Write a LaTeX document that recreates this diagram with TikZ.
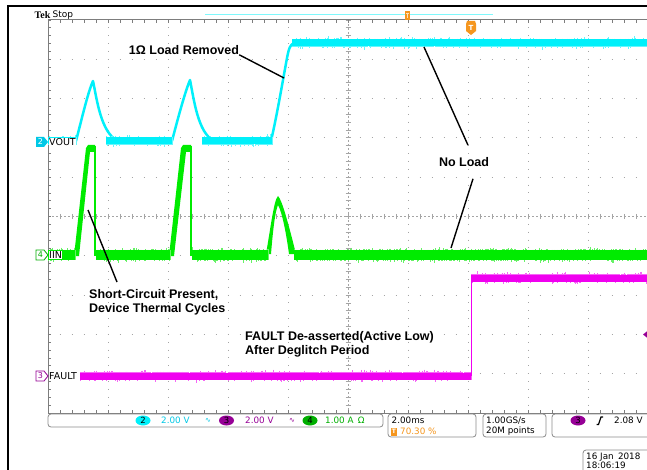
\documentclass[tikz,border=0pt]{standalone}
\usepackage{fontspec}
\setmainfont{Liberation Sans}
\newfontfamily\djv{DejaVu Sans}
\newfontfamily\lserif{Liberation Serif}
\usetikzlibrary{calc,shapes.geometric}
\definecolor{cyW}{RGB}{0,240,250}
\definecolor{cyT}{RGB}{0,200,230}
\definecolor{grW}{RGB}{0,235,0}
\definecolor{grT}{RGB}{0,175,0}
\definecolor{mgW}{RGB}{240,0,240}
\definecolor{purp}{RGB}{150,0,150}
\definecolor{orng}{RGB}{245,150,30}
\definecolor{gridc}{RGB}{165,165,165}
\definecolor{rul}{RGB}{125,125,125}
\definecolor{boxg}{RGB}{140,140,140}
\newcommand\nband[5]{%
  \pgfmathtruncatemacro\nbA{#2+1}%
  \foreach \xx in {#2,\nbA,...,#3}{%
    \pgfmathsetmacro\up{4*rnd*rnd*rnd}%
    \pgfmathsetmacro\dn{4*rnd*rnd*rnd}%
    \draw[#1!60,line width=0.9pt] (\xx,#4-#5-\up) -- (\xx,#4+#5+\dn);
  }
  \fill[#1] (#2,#4-#5) rectangle (#3,#4+#5);}
\begin{document}
\begin{tikzpicture}[x=1pt,y=-1pt,
  ann/.style={font=\fontsize{12.5}{14}\selectfont\bfseries, text=black, inner sep=0pt, align=left},
  annline/.style={black, line width=1.4pt},
  lbl/.style={font=\djv\fontsize{9.5}{10}\selectfont, fill=white, inner sep=0.5pt, anchor=west},
  bar/.style={font=\djv\fontsize{8.8}{10}\selectfont, inner sep=0pt, anchor=west},
  sbox/.style={draw=boxg, rounded corners=3pt, line width=0.8pt},
  chnum/.style={ellipse, minimum width=15pt, minimum height=10pt, inner sep=0pt, font=\djv\fontsize{8.5}{9}\selectfont},
  dotv/.style={gridc, line width=1pt, dash pattern=on 1pt off 6.86pt},
  doth/.style={gridc, line width=1pt, dash pattern=on 1pt off 11pt},
]
\pgfmathsetseed{42}
\useasboundingbox (0,0) rectangle (647,470);
\fill[white] (0,0) rectangle (647,470);
% outer frame
\draw[black,line width=1.5pt] (8,470) -- (8,6) -- (647,6);
% graticule
\foreach \i in {1,2,3,4,6,7,8,9} \draw[dotv] (48+60*\i,19.5) -- (48+60*\i,414);
\foreach \j in {1,2,3,4,6,7,8,9} \draw[doth] (47.5,20+39.3*\j) -- (648,20+39.3*\j);
\draw[gridc, line width=0.8pt, dash pattern=on 2pt off 2pt] (48,216.5) -- (648,216.5);
\draw[gridc, line width=0.8pt, dash pattern=on 2pt off 2pt] (348,20) -- (348,413);
\foreach \k in {0,...,50} {
  \draw[gridc,line width=0.8pt] (48+12*\k,214) -- ++(0,5);
  \draw[gridc,line width=0.8pt] (345.5,20+7.86*\k) -- ++(5,0);
  \draw[rul,line width=0.8pt] (48+12*\k,20) -- ++(0,3);
  \draw[rul,line width=0.8pt] (48+12*\k,413) -- ++(0,-3);
  \draw[rul,line width=0.8pt] (48,20+7.86*\k) -- ++(3,0);
}
\draw[rul, line width=1pt] (48,413) -- (48,20) -- (648,20);
\draw[rul, line width=1pt] (48,413) -- (648,413);
% record bar and markers
\draw[cyW!50, line width=1pt] (205,15) -- (493,15);
\fill[orng] (405,11) rectangle (410,20);
\draw[white!70!orng, line width=0.6pt] (406,13) -- (409,13) (407.5,13) -- (407.5,18);
\fill[orng] (467,21) -- (475,21) -- (476,24) -- (476,31) -- (471,35) -- (466,31) -- (466,24) -- cycle;
\node[font=\djv\bfseries\fontsize{7}{7}\selectfont, text=white, inner sep=0pt] (trg) at (471,28) {T};
\node[font=\lserif\bfseries\fontsize{10}{10}\selectfont, anchor=west, inner sep=0pt] (tek) at (34.5,15) {Tek};
\node[font=\djv\fontsize{9}{10}\selectfont, anchor=west, inner sep=0pt] (stop) at (52.5,15) {Stop};

% ---- VOUT (ch2)
\draw[cyW, line width=2.5pt, line join=round] (48,141) -- (76,141)
  .. controls (82,118) and (88,92) .. (93,81)
  .. controls (97,100) and (101,133) .. (118,141) -- (172,141)
  .. controls (178,118) and (185,92) .. (190,80)
  .. controls (194,100) and (198,133) .. (214,141) -- (271,141)
  .. controls (277,115) and (282,85) .. (287,58)
  .. controls (289,48) and (290,45) .. (294,43) -- (648,43);
\nband{cyW}{48}{76}{141}{3.5}
\nband{cyW}{106}{172}{141}{3.5}
\nband{cyW}{202}{272}{141}{3.5}
\nband{cyW}{292}{648}{43}{3.5}

% ---- IIN (ch4)
\fill[grW] (74,256) -- (86,148) -- (88,145) -- (95,145) -- (95,152) -- (90,152) -- (79,256) -- cycle;
\draw[grW, line width=1.2pt] (95,146) -- (95,256);
\fill[grW] (169,256) -- (181,148) -- (183,145) -- (191,145) -- (191,152) -- (186,152) -- (174,256) -- cycle;
\draw[grW, line width=1.2pt] (191,146) -- (191,256);
\fill[grW] (266,254) .. controls (271,225) and (274,200) .. (278,196)
  .. controls (282,200) and (288,222) .. (296,254) -- (289,254)
  .. controls (286,232) and (282,212) .. (278,205)
  .. controls (275,212) and (273,230) .. (271,254) -- cycle;
\nband{grW}{48}{75}{255}{5}
\nband{grW}{96}{170}{255}{5}
\nband{grW}{192}{268}{255}{5}
\nband{grW}{294}{648}{255}{5}

% ---- FAULT (ch3)
\nband{mgW}{80}{471}{376}{3.5}
\draw[mgW, line width=1pt] (471,376) -- (471,278);
\nband{mgW}{471}{648}{278}{3.5}
\fill[purp] (643,334.5) -- (648,330.5) -- (648,338.5) -- cycle;

% channel markers and labels
\fill[cyT] (36,137) -- (44,137) -- (48,142) -- (44,147) -- (36,147) -- cycle;
\node[font=\djv\fontsize{8}{8}\selectfont, text=white, inner sep=0pt] (m2) at (40.5,142) {2};
\node[lbl] (vout) at (48.5,142) {VOUT};
\draw[grT, fill=white, line width=0.8pt] (36,250) -- (44,250) -- (48,255) -- (44,260) -- (36,260) -- cycle;
\node[font=\djv\fontsize{8}{8}\selectfont, text=grT, inner sep=0pt] (m4) at (40.5,255) {4};
\node[lbl] (iin) at (48.5,255) {IIN};
\draw[purp, fill=white, line width=0.8pt] (36,371) -- (44,371) -- (48,376) -- (44,381) -- (36,381) -- cycle;
\node[font=\djv\fontsize{8}{8}\selectfont, text=purp, inner sep=0pt] (m3) at (40.5,376) {3};
\node[lbl] (fault) at (48.5,376) {FAULT};

% annotations
\node[ann, anchor=center] (lr) at (184,50) {1Ω Load Removed};
\coordinate (lrEnd) at (284,78);
\draw[annline] (lr.south east) -- (lrEnd);
\node[ann, anchor=center, inner ysep=12pt] (nl) at (464,162) {No Load};
\coordinate (nlA) at (424,47);
\coordinate (nlB) at (451,248);
\draw[annline] (nlA) -- ($(nl.north)+(4,0)$);
\draw[annline] ($(nl.south)+(9,0)$) -- (nlB);
\node[ann, anchor=north west] (sc) at (89,289) {Short-Circuit Present,\\Device Thermal Cycles};
\coordinate (scA) at (88,210);
\draw[annline] (scA) -- ($(sc.north west)+(28,-7)$);
\node[ann, anchor=north west] (fd) at (245,331.5) {FAULT De-asserted(Active Low)\\After Deglitch Period};

% bottom status bar
\draw[sbox] (48,414) rectangle (383,427);
\node[chnum, fill=cyW] (e2) at (143,420.5) {2};
\node[bar, text=cyT] (v2) at (161,420.5) {2.00 V};
\node[bar, text=cyT, font=\djv\fontsize{7}{7}\selectfont] (bw2) at (205,420.5) {∿};
\node[chnum, fill=purp] (e3) at (226.5,420.5) {3};
\node[bar, text=purp] (v3) at (245,420.5) {2.00 V};
\node[bar, text=purp, font=\djv\fontsize{7}{7}\selectfont] (bw3) at (289,420.5) {∿};
\node[chnum, fill=grT] (e4) at (310,420.5) {4};
\node[bar, text=grT] (v4) at (325,420.5) {1.00 A \,Ω};

\draw[sbox] (388,414) rectangle (476,437);
\node[bar] (tb) at (391.5,420.5) {2.00ms};
\node[fill=orng, text=white, font=\djv\bfseries\fontsize{6}{6}\selectfont, inner sep=0pt, minimum width=6pt, minimum height=8pt] (ticon) at (394,431.5) {T};
\node[bar, text=orng] (pos) at (400,431.5) {70.30 \%};

\draw[sbox] (483,414) rectangle (546,437);
\node[bar] (sr) at (486,420.5) {1.00GS/s};
\node[bar] (pts) at (486,431.5) {20M points};

\draw[sbox] (552,414) rectangle (665,437);
\node[chnum, fill=purp] (e3b) at (578,420.5) {3};
\draw[black, line width=1.2pt] (596.5,424.5) -- (598.5,424.5) -- (601,417) -- (603,417);
\node[bar] (trl) at (614,420.5) {2.08 V};

\draw[sbox] (583,450) rectangle (665,480);
\node[bar] (date) at (586,457) {16 Jan \,2018};
\node[bar] (time) at (586,465.5) {18:06:19};
\end{tikzpicture}
\end{document}
